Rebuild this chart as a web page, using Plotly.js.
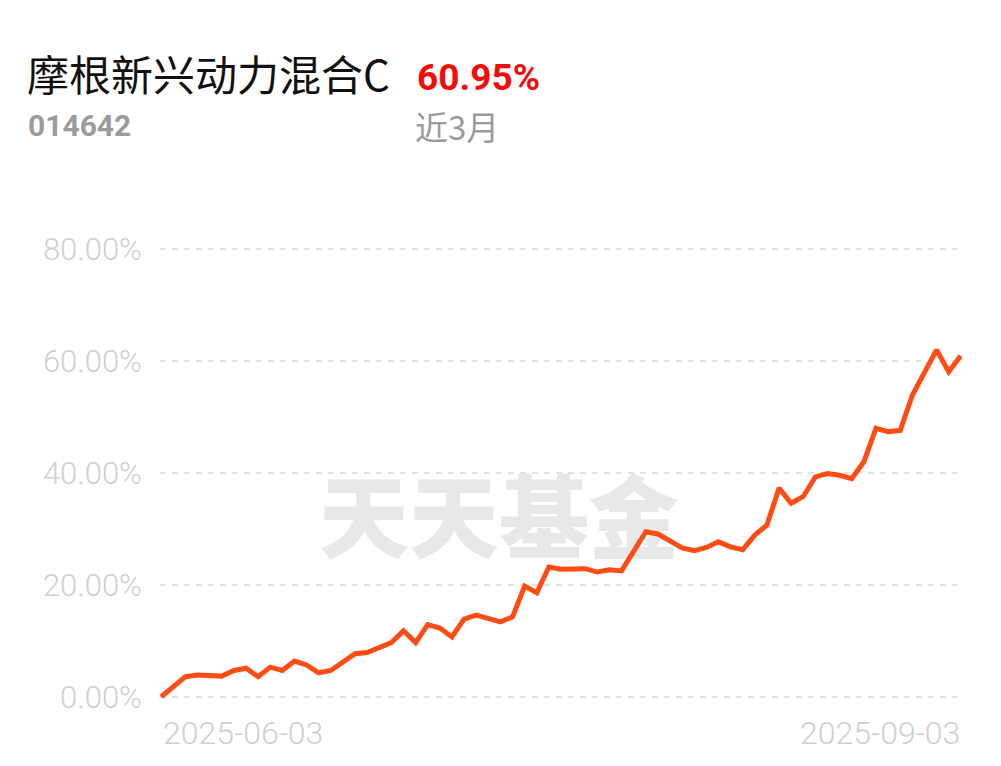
<!DOCTYPE html>
<html>
<head>
<meta charset="utf-8">
<script src="https://cdn.plot.ly/plotly-3.0.1.min.js"></script>
<style>
  html, body { margin:0; padding:0; background:#ffffff; }
  #wrap { position:relative; width:1001px; height:766px; }
  #wm { position:absolute; left:0; top:0; width:1001px; height:766px; z-index:0; pointer-events:none; }
  #wm span { position:absolute; left:499px; top:512px; transform:translate(-50%,-50%);
    font-family:"Noto Sans CJK SC","Noto Sans CJK JP",sans-serif; font-weight:800; font-size:90px;
    color:#e8e8e8; white-space:nowrap; letter-spacing:0px; line-height:1; }
  #chart { position:absolute; left:0; top:0; width:1001px; height:766px; z-index:1; }
</style>
</head>
<body>
<div id="wrap">
  <div id="wm"><span>天天基金</span></div>
  <div id="chart"></div>
</div>
<script>
const fundName = '摩根新兴动力混合C';
const fundCode = '014642';
const periodReturn = '60.95%';
const periodLabel = '近3月';
const watermark = '天天基金';

const dates = [
  '2025-06-03','2025-06-04','2025-06-05','2025-06-06','2025-06-09','2025-06-10','2025-06-11','2025-06-12','2025-06-13',
  '2025-06-16','2025-06-17','2025-06-18','2025-06-19','2025-06-20','2025-06-23','2025-06-24','2025-06-25','2025-06-26',
  '2025-06-27','2025-06-30','2025-07-01','2025-07-02','2025-07-03','2025-07-04','2025-07-07','2025-07-08','2025-07-09',
  '2025-07-10','2025-07-11','2025-07-14','2025-07-15','2025-07-16','2025-07-17','2025-07-18','2025-07-21','2025-07-22',
  '2025-07-23','2025-07-24','2025-07-25','2025-07-28','2025-07-29','2025-07-30','2025-07-31','2025-08-01','2025-08-04',
  '2025-08-05','2025-08-06','2025-08-07','2025-08-08','2025-08-11','2025-08-12','2025-08-13','2025-08-14','2025-08-15',
  '2025-08-18','2025-08-19','2025-08-20','2025-08-21','2025-08-22','2025-08-25','2025-08-26','2025-08-27','2025-08-28',
  '2025-08-29','2025-09-01','2025-09-02','2025-09-03'
];

const returns = [
  0.00, 1.8, 3.6, 3.9, 3.9, 3.7, 4.7, 5.1, 3.6,
  5.3, 4.7, 6.4, 5.7, 4.3, 4.7, 6.3, 7.7, 7.9,
  8.9, 9.7, 11.8, 9.7, 12.9, 12.3, 10.7, 13.9, 14.6,
  14.1, 13.4, 14.3, 19.8, 18.6, 23.2, 22.8, 22.8, 22.9,
  22.3, 22.7, 22.5, 26.1, 29.5, 29.1, 27.9, 26.6, 26.1,
  26.7, 27.7, 26.8, 26.3, 28.9, 30.7, 37.3, 34.6, 35.8,
  39.3, 39.9, 39.6, 39.0, 42.0, 48.0, 47.4, 47.6, 53.9,
  57.8, 62.0, 58.1, 60.95
];

const yTicks = [0, 20, 40, 60, 80];
const yTickText = yTicks.map(v => v.toFixed(2) + '%');

document.querySelector('#wm span').textContent = watermark;

const W = 1001, H = 766;
const L = 160, R = 39, T = 237.8, B = 57.8;

const trace = {
  type: 'scatter',
  mode: 'lines',
  x: dates,
  y: returns,
  line: { color: '#ff4b14', width: 5, shape: 'linear' },
  hoverinfo: 'skip',
  showlegend: false
};

const gray = '#9b9b9b';
const tickGray = '#cfcfcf';
const layout = {
  width: W, height: H,
  margin: { l: L, r: R, t: T, b: B, pad: 0 },
  paper_bgcolor: 'rgba(0,0,0,0)',
  plot_bgcolor: 'rgba(0,0,0,0)',
  showlegend: false,
  title: {
    text: fundName,
    xref: 'container', yref: 'container',
    x: 27 / W, xanchor: 'left',
    y: 1 - 76 / H, yanchor: 'middle',
    font: { family: '"Noto Sans CJK SC", "Noto Sans", sans-serif', size: 42, color: '#111111' }
  },
  xaxis: {
    type: 'category',
    range: [-0.1, dates.length - 0.9],
    showgrid: false, zeroline: false, showline: false,
    showticklabels: false, ticks: '', fixedrange: true
  },
  yaxis: {
    range: [-2, 82],
    tickmode: 'array',
    tickvals: yTicks,
    ticktext: yTickText,
    ticks: '',
    ticklabelstandoff: 17,
    showline: false, zeroline: false,
    showgrid: true,
    gridcolor: '#e2e2e2', gridwidth: 2, griddash: '6px,6px',
    tickfont: { family: 'Roboto, "Noto Sans", sans-serif', size: 31, color: tickGray, weight: 300 },
    fixedrange: true
  },
  annotations: [
    {
      text: periodReturn, xref: 'paper', yref: 'paper', x: 0, y: 1,
      xanchor: 'left', yanchor: 'middle', xshift: 415 - L, yshift: T - 77,
      showarrow: false,
      font: { family: 'Roboto, sans-serif', size: 37, color: '#f40c0c', weight: 700 }
    },
    {
      text: fundCode, xref: 'paper', yref: 'paper', x: 0, y: 1,
      xanchor: 'left', yanchor: 'middle', xshift: 26 - L, yshift: T - 125,
      showarrow: false,
      font: { family: 'Roboto, sans-serif', size: 30, color: gray, weight: 700 }
    },
    {
      text: periodLabel, xref: 'paper', yref: 'paper', x: 0, y: 1,
      xanchor: 'left', yanchor: 'middle', xshift: 413 - L, yshift: T - 126,
      showarrow: false,
      font: { family: '"Noto Sans CJK SC", "Noto Sans", sans-serif', size: 33, color: gray }
    },
    {
      text: dates[0], xref: 'x', yref: 'paper', x: dates[0], y: 0,
      xanchor: 'left', yanchor: 'middle', xshift: 0, yshift: -(733 - (H - B)),
      showarrow: false,
      font: { family: 'Roboto, "Noto Sans", sans-serif', size: 32, color: tickGray, weight: 300 }
    },
    {
      text: dates[dates.length - 1], xref: 'x', yref: 'paper', x: dates[dates.length - 1], y: 0,
      xanchor: 'right', yanchor: 'middle', xshift: 1, yshift: -(733 - (H - B)),
      showarrow: false,
      font: { family: 'Roboto, "Noto Sans", sans-serif', size: 32, color: tickGray, weight: 300 }
    }
  ]
};

Plotly.newPlot('chart', [trace], layout, { staticPlot: true, displayModeBar: false });
</script>
</body>
</html>
